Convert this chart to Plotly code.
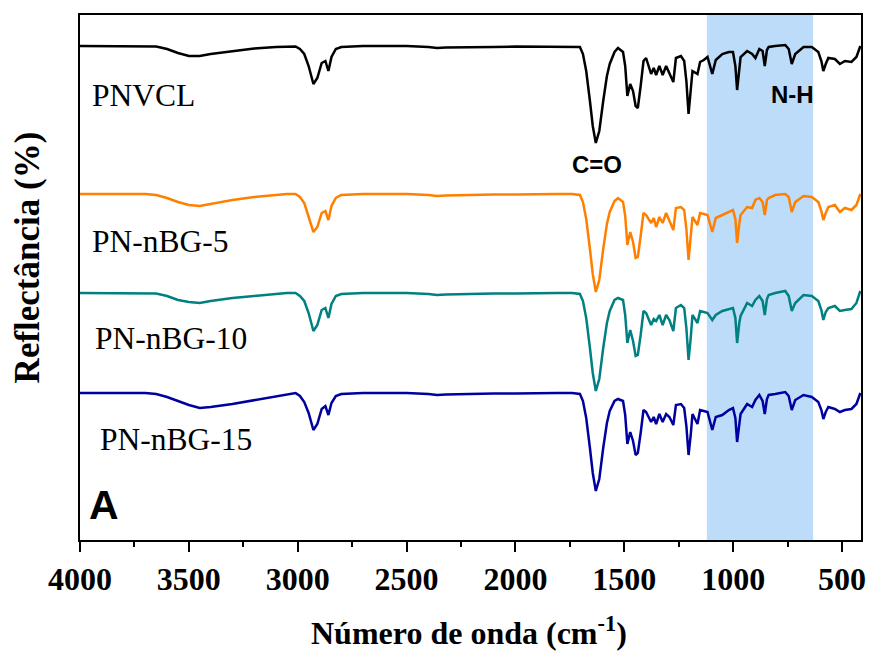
import plotly.graph_objects as go

# Wavenumber grid (cm^-1)
wavenumber = [4000, 3900, 3800, 3700, 3650, 3600, 3550, 3500, 3450, 3400, 3300, 3200, 3100, 3050, 3010,
              2990, 2970, 2950, 2928, 2910, 2890, 2873, 2859, 2845, 2825, 2800, 2700, 2600, 2500, 2400,
              2360, 2320, 2250, 2100, 2000, 1900, 1810, 1740, 1704, 1690, 1675, 1658, 1645, 1631, 1615,
              1597, 1580, 1567, 1545, 1529, 1506, 1496, 1486, 1473, 1460, 1448, 1438, 1425, 1412, 1400,
              1377, 1365, 1354, 1339, 1324, 1308, 1293, 1275, 1263, 1240, 1225, 1215, 1205, 1195, 1187,
              1164, 1152, 1135, 1118, 1096, 1080, 1050, 1020, 1001, 990, 982, 972, 966, 936, 913,
              898, 880, 865, 855, 845, 837, 807, 761, 745, 731, 715, 677, 639, 609, 595,
              586, 575, 563, 533, 510, 487, 457, 434, 422, 416]

# Band depth below each spectrum's baseline (arbitrary reflectance units)
pnvcl_drop = [0, 0, 0, 0, 0.5, 3, 7, 10, 10, 8, 5, 2.5, 1, 0.5, 0.5,
              3, 8, 20, 38, 32, 17, 15, 25, 11, 3, 1, 0, 0, 0, 1,
              2, 1.5, 1.5, 1, 0.5, 0.5, 0.5, 0.5, 1, 8, 25, 55, 80, 97, 85,
              55, 30, 18, 6, 2, 6, 20, 50, 38, 45, 60, 62, 40, 15, 12,
              28, 22, 29, 20, 29, 20, 27, 36, 12, 10, 15, 35, 68, 45, 25,
              28, 16, 14, 11, 28, 14, 8, 6, 6, 20, 44, 25, 11, 5, 8,
              12, 3, 5, 20, 4, 1, 0, -1, 3, 18, 8, 1, 1, 6, 15,
              25, 18, 12, 13, 18, 15, 16, 11, 3, 0]
pn5_drop = [0, 0, 0, 0, 1, 4, 8, 11, 12, 10, 6, 3, 1, 0, 0,
            3, 9, 22, 38, 33, 19, 17, 26, 12, 4, 1, 0, 0, 0, 1,
            2, 1.5, 1, 0.5, 0.5, 0, 0, 0, 1, 8, 25, 55, 80, 98, 86,
            55, 30, 18, 7, 4, 8, 22, 51, 38, 48, 64, 63, 42, 19, 21,
            29, 24, 33, 23, 29, 19, 26, 36, 14, 13, 16, 35, 66, 45, 23,
            31, 19, 20, 21, 38, 24, 21, 18, 16, 25, 49, 30, 21, 13, 14,
            6, 4, 8, 21, 6, 4, 1, 0, 3, 18, 8, 2, 3, 8, 17,
            26, 19, 13, 11, 18, 14, 16, 11, 3, 0]
pn10_drop = [0, 0, 0, 0, 0.5, 3, 7, 9, 10, 8, 5, 3, 1, 0, 0,
             3, 8, 20, 38, 32, 17, 15, 25, 11, 3, 1, 0, 0, 0, 1,
             2, 1.5, 1, 0.5, 0.5, 0, 0, 0, 1, 8, 25, 55, 80, 98, 86,
             55, 30, 18, 7, 5, 7, 22, 50, 37, 48, 63, 62, 42, 18, 20,
             32, 26, 28, 22, 32, 22, 27, 38, 15, 12, 15, 35, 67, 45, 22,
             30, 18, 19, 20, 27, 22, 18, 16, 15, 25, 50, 30, 23, 10, 13,
             7, 3, 8, 22, 6, 2, 0, -2, 3, 18, 10, 2, 3, 8, 17,
             27, 19, 15, 13, 18, 17, 16, 10, 2, -2]
pn15_drop = [0, 0, 0, 0, 1, 4, 8, 12, 15, 14, 11, 7, 3, 1, 0,
             3, 9, 20, 37, 31, 16, 13, 22, 10, 3, 1, 0, 0, 0, 1,
             2, 1.5, 1, 0.5, 0.5, 0, 0, 0, 1, 8, 25, 55, 80, 98, 86,
             55, 30, 18, 8, 6, 8, 22, 51, 39, 48, 62, 60, 40, 17, 19,
             29, 24, 31, 21, 29, 21, 24, 32, 12, 11, 15, 33, 62, 42, 21,
             31, 17, 18, 19, 37, 24, 22, 17, 15, 25, 49, 30, 21, 11, 14,
             7, 2, 8, 21, 6, 2, 1, -1, 3, 17, 7, 2, 4, 9, 17,
             26, 19, 14, 16, 19, 17, 16, 11, 3, 0]

series_names = ["PNVCL", "PN-nBG-5", "PN-nBG-10", "PN-nBG-15"]
series_drops = [pnvcl_drop, pn5_drop, pn10_drop, pn15_drop]
series_offsets = [394, 246, 147, 47]       # vertical stacking offsets
series_colors = ["#000000", "#ff8000", "#008080", "#0000a0"]

shade_band = [1121, 633]                   # N-H highlighted region (cm^-1)
x_ticks = [4000, 3500, 3000, 2500, 2000, 1500, 1000, 500]
x_minor = [3750, 3250, 2750, 2250, 1750, 1250, 750]

fig = go.Figure()

for name, drop, off, col in zip(series_names, series_drops, series_offsets, series_colors):
    y = [off + 100 - d for d in drop]
    fig.add_trace(go.Scatter(x=wavenumber, y=y, mode="lines", name=name,
                             line=dict(color=col, width=2.5), showlegend=False))

fig.add_shape(type="rect", xref="x", yref="paper", x0=shade_band[0], x1=shade_band[1],
              y0=0, y1=1, fillcolor="#bcdcfa", line=dict(width=0), layer="below")

serif = "Liberation Serif, Times New Roman, serif"
sans = "Liberation Sans, Arial, sans-serif"

labels = [("PNVCL", 0.0127, 0.8476), ("PN-nBG-5", 0.0127, 0.5695),
          ("PN-nBG-10", 0.0165, 0.3829), ("PN-nBG-15", 0.0229, 0.1905)]
for text, xp, yp in labels:
    fig.add_annotation(text=text, xref="paper", yref="paper", x=xp, y=yp,
                       xanchor="left", yanchor="middle", showarrow=False,
                       font=dict(family=serif, size=31.5, color="black"))

fig.add_annotation(text="<b>A</b>", xref="paper", yref="paper", x=0.0305, y=0.0667,
                   xanchor="center", yanchor="middle", showarrow=False,
                   font=dict(family=sans, size=41, color="black"))
fig.add_annotation(text="<b>C=O</b>", xref="paper", yref="paper", x=0.6616, y=0.7143,
                   xanchor="center", yanchor="middle", showarrow=False,
                   font=dict(family=sans, size=24, color="black"))
fig.add_annotation(text="<b>N-H</b>", xref="paper", yref="paper", x=0.9122, y=0.8495,
                   xanchor="center", yanchor="middle", showarrow=False,
                   font=dict(family=sans, size=24, color="black"))

fig.add_annotation(text="<b>Reflectância (%)</b>", xref="paper", yref="paper",
                   x=-0.0674, y=0.539, textangle=-90, xanchor="center", yanchor="middle",
                   showarrow=False, font=dict(family=serif, size=35, color="black"))
fig.add_annotation(text="<b>Número de onda (cm<sup>-1</sup>)</b>", xref="paper", yref="paper",
                   x=0.498, y=-0.173, xanchor="center", yanchor="middle",
                   showarrow=False, font=dict(family=serif, size=32, color="black"))

fig.update_xaxes(range=[4000, 413], tickvals=x_ticks, ticktext=[str(t) for t in x_ticks],
                 ticks="outside", ticklen=10, tickwidth=2, tickcolor="black",
                 minor=dict(tickvals=x_minor, ticks="outside", ticklen=5, tickwidth=2,
                            tickcolor="black"),
                 showline=True, linewidth=2, linecolor="black", mirror=True,
                 showgrid=False, zeroline=False,
                 tickfont=dict(family=serif, size=32, color="black", weight="bold"))
fig.update_yaxes(range=[0, 525], showticklabels=False, ticks="",
                 showline=True, linewidth=2, linecolor="black", mirror=True,
                 showgrid=False, zeroline=False)

fig.update_layout(width=871, height=651, margin=dict(l=80, r=5, t=15, b=111),
                  plot_bgcolor="white", paper_bgcolor="white")

# remove the default 8px page margin so the figure fills the window exactly
fig.write_html("out.html", config={"displayModeBar": False},
               post_script="document.body.style.margin='0px';document.body.style.padding='0px';"
                           "document.body.style.overflow='hidden';")
